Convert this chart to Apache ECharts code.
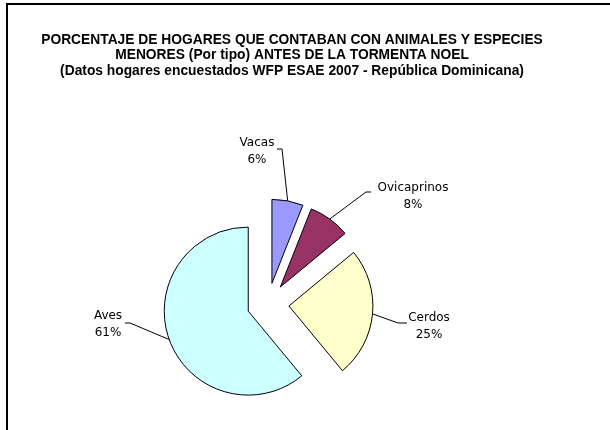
<!DOCTYPE html>
<html>
<head>
<meta charset="utf-8">
<script src="https://cdn.jsdelivr.net/npm/echarts@6/dist/echarts.min.js"></script>
<style>
  html, body { margin: 0; padding: 0; background: #fff; }
  #chart { width: 610px; height: 430px; }
</style>
</head>
<body>
<div id="chart"></div>
<script>
// datos del gráfico
const categorias = ['Vacas', 'Ovicaprinos', 'Cerdos', 'Aves']
const porcentajes = [6, 8, 25, 61]
const colores = ['#9999FF', '#993366', '#FFFFCC', '#CCFFFF']
const tituloLineas = [
  'PORCENTAJE DE HOGARES QUE CONTABAN CON ANIMALES Y ESPECIES',
  'MENORES (Por tipo) ANTES DE LA TORMENTA NOEL',
  '(Datos hogares encuestados WFP ESAE 2007 - República Dominicana)',
]

// geometría de la torta
const centro = [268, 304]
const radio = 84
const separacion = 21

// etiquetas: centro del texto, inicio de la línea guía y punto de quiebre (x)
const posEtiquetas = [
  { x: 257, y: 151, lx: 277, ly: 149, bx: 282 },
  { x: 413, y: 196, lx: 371, ly: 192, bx: 366 },
  { x: 429, y: 326, lx: 407, ly: 323, bx: 398 },
  { x: 108, y: 324, lx: 125, ly: 323, bx: 130 },
]

const chart = echarts.init(document.getElementById('chart'))

const option = {
  backgroundColor: '#fff',
  animation: false,
  graphic: [
    {
      type: 'polyline',
      shape: { points: [[7, 440], [7, 4], [615, 4]] },
      style: { stroke: '#000', lineWidth: 2, fill: null },
      silent: true,
    },
    ...tituloLineas.map((t, i) => ({
      type: 'text',
      x: 292,
      y: 40 + i * 15.5,
      style: {
        text: t,
        font: 'bold 13.8px "Liberation Sans", Arial, sans-serif',
        fill: '#000',
        textAlign: 'center',
        textVerticalAlign: 'middle',
      },
      silent: true,
    })),
  ],
  series: [
    // porciones separadas
    {
      type: 'pie',
      center: centro,
      radius: radio,
      startAngle: 90,
      clockwise: true,
      selectedMode: 'multiple',
      selectedOffset: separacion,
      itemStyle: { borderColor: '#000', borderWidth: 1 },
      label: { show: false },
      labelLine: { show: false },
      emphasis: { disabled: true },
      data: categorias.map((c, i) => ({
        name: c,
        value: porcentajes[i],
        selected: true,
        itemStyle: { color: colores[i] },
      })),
    },
    // solo etiquetas, sobre el borde de las porciones separadas
    {
      type: 'pie',
      center: centro,
      radius: radio + separacion,
      startAngle: 90,
      clockwise: true,
      silent: true,
      avoidLabelOverlap: false,
      itemStyle: { color: 'rgba(0,0,0,0)', borderWidth: 0 },
      label: {
        show: true,
        position: 'outside',
        formatter: '{b}\n{d}%',
        fontFamily: '"DejaVu Sans", sans-serif',
        fontSize: 12,
        lineHeight: 17,
        color: '#000',
        align: 'center',
      },
      labelLine: {
        show: true,
        length: 10,
        length2: 8,
        lineStyle: { color: '#000', width: 1 },
      },
      labelLayout: (params) => {
        const p = posEtiquetas[params.dataIndex]
        const a = params.labelLinePoints[0]
        return {
          x: p.x,
          y: p.y,
          align: 'center',
          verticalAlign: 'middle',
          labelLinePoints: [[p.lx, p.ly], [p.bx, p.ly], [a[0], a[1]]],
        }
      },
      emphasis: { disabled: true },
      data: categorias.map((c, i) => ({ name: c, value: porcentajes[i] })),
    },
  ],
}

chart.setOption(option)
</script>
</body>
</html>
